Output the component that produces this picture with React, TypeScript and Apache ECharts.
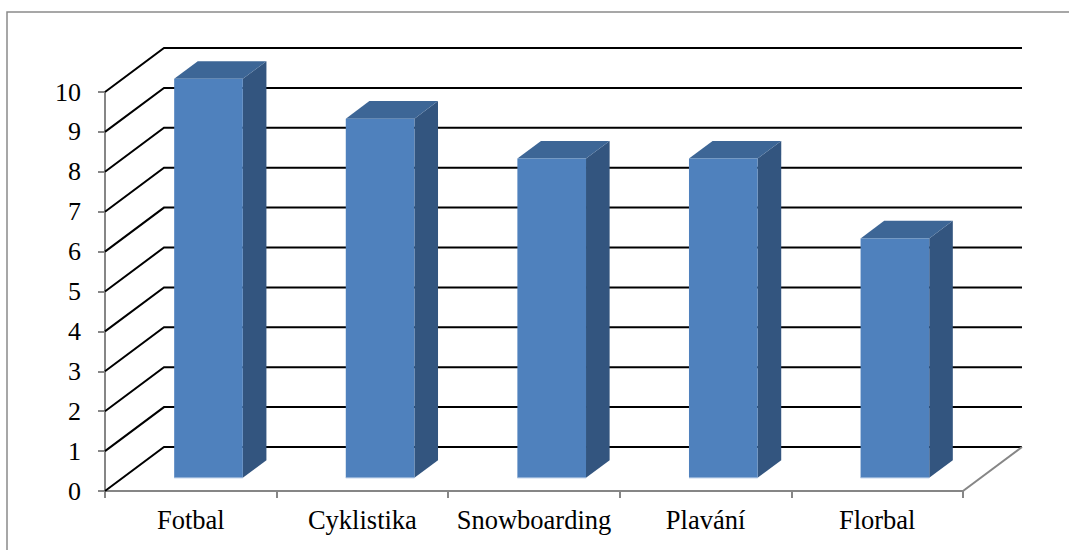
import React, { useEffect, useRef } from "react";
import * as echarts from "echarts";

// Sports and how many people chose each one
const categories: string[] = ["Fotbal", "Cyklistika", "Snowboarding", "Plavání", "Florbal"];
const votes: number[] = [10, 9, 8, 8, 6];
const yTicks: number[] = [0, 1, 2, 3, 4, 5, 6, 7, 8, 9, 10];

// Depth of the back wall (pseudo-3D offset from the front plane)
const DEPTH_X = 59;
const DEPTH_Y = -44;
// Bars sit between these fractions of the depth
const BAR_NEAR = 0.3;
const BAR_FAR = 0.7;
const BAR_WIDTH_RATIO = 0.4;

const FONT = "'Liberation Serif', 'Times New Roman', serif";
const AXIS_GRAY = "#868686";

export default function App() {
  const ref = useRef<HTMLDivElement>(null);

  useEffect(() => {
    if (!ref.current) return;
    const chart = echarts.init(ref.current, null, { renderer: "svg" });

    const wallItem = (params: any, api: any) => {
      const v = api.value(0);
      const cs = params.coordSys;
      const y = api.coord([0, v])[1];
      const x0 = cs.x;
      const x1 = cs.x + cs.width;
      const children: any[] = [
        {
          type: "polyline",
          shape: {
            points: [
              [x0, y],
              [x0 + DEPTH_X, y + DEPTH_Y],
              [x1 + DEPTH_X, y + DEPTH_Y],
            ],
          },
          style: { stroke: "#000", lineWidth: 2, fill: "none" },
        },
      ];
      if (v === 0) {
        // right edge of the floor
        children.push({
          type: "line",
          shape: { x1: x1, y1: y, x2: x1 + DEPTH_X, y2: y + DEPTH_Y },
          style: { stroke: AXIS_GRAY, lineWidth: 2 },
        });
      }
      return { type: "group", children };
    };

    const barItem = (params: any, api: any) => {
      const idx = api.value(0);
      const val = api.value(1);
      const base = api.coord([idx, 0]);
      const top = api.coord([idx, val]);
      const band = api.size([1, 0])[0];
      const w = band * BAR_WIDTH_RATIO;
      const sx = BAR_NEAR * DEPTH_X;
      const sy = BAR_NEAR * DEPTH_Y;
      const dx = (BAR_FAR - BAR_NEAR) * DEPTH_X;
      const dy = (BAR_FAR - BAR_NEAR) * DEPTH_Y;
      const xl = base[0] - w / 2 + sx;
      const xr = xl + w;
      const yt = top[1] + sy;
      const yb = base[1] + sy;
      return {
        type: "group",
        children: [
          {
            type: "polygon",
            shape: {
              points: [
                [xr, yt],
                [xr + dx, yt + dy],
                [xr + dx, yb + dy],
                [xr, yb],
              ],
            },
            style: { fill: "#33557F" },
          },
          {
            type: "polygon",
            shape: {
              points: [
                [xl, yt],
                [xr, yt],
                [xr + dx, yt + dy],
                [xl + dx, yt + dy],
              ],
            },
            style: { fill: "#3D6696" },
          },
          {
            type: "rect",
            shape: { x: xl, y: yt, width: w, height: yb - yt },
            style: { fill: "#4F81BD" },
          },
          {
            type: "line",
            shape: { x1: xl, y1: yb, x2: xr, y2: yb },
            style: { stroke: "#9DB8DC", lineWidth: 1 },
          },
        ],
      };
    };

    chart.setOption({
      animation: false,
      backgroundColor: "#fff",
      graphic: [
        {
          type: "rect",
          shape: { x: 7, y: 12, width: 1100, height: 600 },
          style: { fill: "none", stroke: "#8a8a8a", lineWidth: 1.5 },
          silent: true,
          z: -10,
        },
      ],
      grid: { left: 105, right: 106, top: 92, bottom: 59 },
      xAxis: {
        type: "category",
        data: categories,
        axisLine: { show: true, lineStyle: { color: AXIS_GRAY, width: 2 } },
        axisTick: { show: true, length: 7, lineStyle: { color: AXIS_GRAY, width: 2 } },
        axisLabel: {
          color: "#000",
          fontFamily: FONT,
          fontSize: 26.5,
          margin: 15,
          interval: 0,
        },
        splitLine: { show: false },
      },
      yAxis: {
        type: "value",
        min: 0,
        max: 10,
        interval: 1,
        axisLine: { show: true, lineStyle: { color: AXIS_GRAY, width: 2 } },
        axisTick: { show: true, length: 7, lineStyle: { color: AXIS_GRAY, width: 2 } },
        axisLabel: { color: "#000", fontFamily: FONT, fontSize: 26, margin: 24 },
        splitLine: { show: false },
      },
      series: [
        {
          type: "custom",
          name: "wall",
          renderItem: wallItem,
          data: yTicks.map((t) => [t]),
          encode: { y: 0 },
          silent: true,
          z: 1,
        },
        {
          type: "custom",
          name: "Počet",
          renderItem: barItem,
          data: votes.map((v, i) => [i, v]),
          encode: { x: 0, y: 1 },
          z: 3,
        },
      ],
    });

    return () => chart.dispose();
  }, []);

  return (
    <div
      ref={ref}
      style={{ position: "fixed", left: 0, top: 0, width: 1069, height: 550 }}
    />
  );
}
